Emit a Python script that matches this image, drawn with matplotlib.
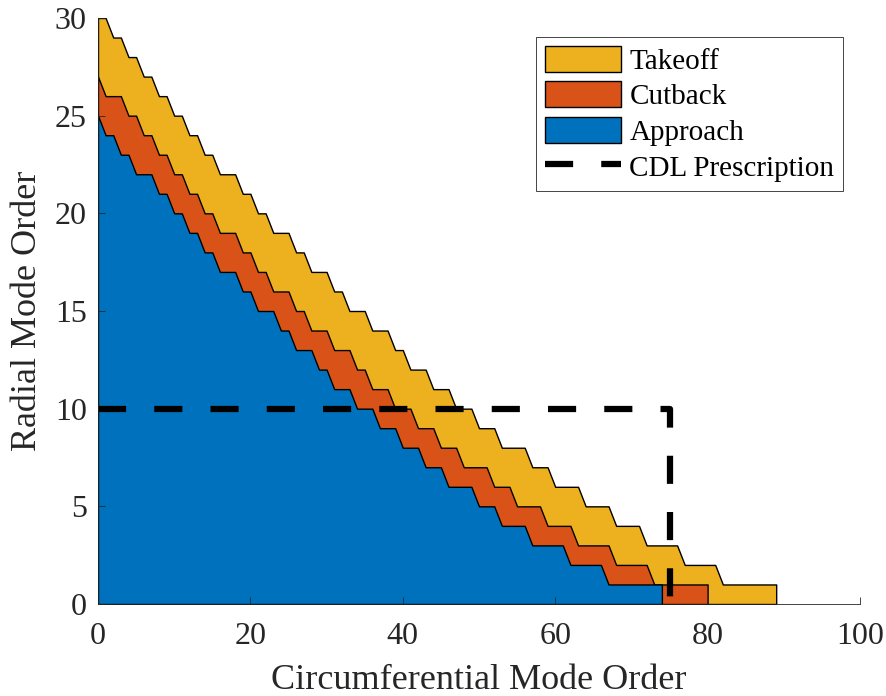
import numpy as np
import matplotlib
matplotlib.use("Agg")
import matplotlib.pyplot as plt

# number of cut-on radial modes for each circumferential order m = 0, 1, 2, ...
takeoff = [30, 30, 29, 29, 28, 28, 27, 27, 26, 26, 25, 25, 24, 24, 23, 23,
           22, 22, 22, 21, 21, 20, 20, 19, 19, 19, 18, 18, 17, 17, 17,
           16, 16, 15, 15, 15, 14, 14, 14, 13, 13, 12, 12, 12, 11, 11, 11,
           10, 10, 10, 9, 9, 9, 8, 8, 8, 8, 7, 7, 7, 6, 6, 6, 6,
           5, 5, 5, 5, 4, 4, 4, 4, 3, 3, 3, 3, 3, 2, 2, 2, 2, 2,
           1, 1, 1, 1, 1, 1, 1, 1]
cutback = [27, 26, 26, 26, 25, 25, 24, 24, 23, 23, 22, 22, 21, 21, 20, 20,
           19, 19, 19, 18, 18, 17, 17, 16, 16, 16, 15, 15, 14, 14, 14,
           13, 13, 13, 12, 12, 11, 11, 11, 10, 10, 10, 9, 9, 9, 8, 8, 8,
           7, 7, 7, 7, 6, 6, 6, 5, 5, 5, 5, 4, 4, 4, 4,
           3, 3, 3, 3, 3, 2, 2, 2, 2, 2, 1, 1, 1, 1, 1, 1, 1, 1]
approach = [25, 24, 24, 23, 23, 22, 22, 22, 21, 21, 20, 20, 19, 19, 18, 18,
            17, 17, 17, 16, 16, 15, 15, 15, 14, 14, 13, 13, 13, 12, 12,
            11, 11, 11, 10, 10, 10, 9, 9, 9, 8, 8, 8, 7, 7, 7,
            6, 6, 6, 6, 5, 5, 5, 4, 4, 4, 4, 3, 3, 3, 3, 3,
            2, 2, 2, 2, 2, 1, 1, 1, 1, 1, 1, 1, 1]

# CDL prescription boundary
cdl_m = [0, 75, 75]
cdl_n = [10, 10, 0]

series = [("Takeoff", takeoff, "#EDB120"),
          ("Cutback", cutback, "#D95319"),
          ("Approach", approach, "#0072BD")]

plt.rcParams["font.family"] = ["Liberation Serif", "DejaVu Serif"]
plt.rcParams["axes.edgecolor"] = "#262626"
plt.rcParams["xtick.color"] = "#262626"
plt.rcParams["ytick.color"] = "#262626"

fig = plt.figure(figsize=(8.86, 6.96), dpi=100)
ax = fig.add_axes([98 / 886, 92 / 696, 762 / 886, 586 / 696])

handles = []
for name, vals, col in series:
    m = np.arange(len(vals))
    h = ax.fill_between(m, vals, 0, facecolor=col, edgecolor="black",
                        linewidth=1.0, label=name)
    handles.append(h)

line, = ax.plot(cdl_m, cdl_n, color="black", linewidth=4.5,
                linestyle=(0, (4.5, 4.5)), label="CDL Prescription")
handles.append(line)

ax.set_xlim(0, 100)
ax.set_ylim(0, 30)
ax.set_xticks(np.arange(0, 101, 20))
ax.set_yticks(np.arange(0, 31, 5))
ax.tick_params(direction="in", length=5, width=0.6, labelsize=23)
ax.tick_params(axis="x", pad=13)
ax.tick_params(axis="y", pad=8)
ax.spines["top"].set_visible(False)
ax.spines["right"].set_visible(False)
for s in ("left", "bottom"):
    ax.spines[s].set_linewidth(0.6)

ax.set_xlabel("Circumferential Mode Order", fontsize=26, color="#262626",
              labelpad=9)
ax.set_ylabel("Radial Mode Order", fontsize=26, color="#262626",
              labelpad=8)

leg = ax.legend(handles=handles, loc="upper right",
                bbox_to_anchor=(0.978, 0.968), fontsize=21,
                fancybox=False, framealpha=1, edgecolor="#262626",
                handlelength=2.6, handleheight=1.0, handletextpad=0.3,
                labelspacing=0.23, borderpad=0.3, borderaxespad=0)
leg.get_frame().set_linewidth(0.6)

fig.savefig("out.png", dpi=100)
